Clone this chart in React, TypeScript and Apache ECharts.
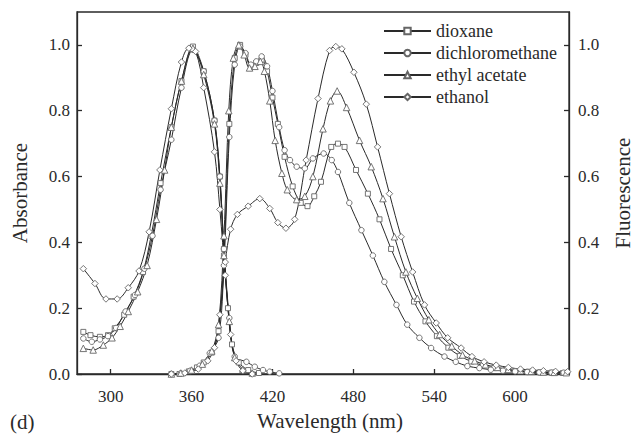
import React, { useEffect, useRef } from 'react';
import * as echarts from 'echarts';

const SOLVENTS = ['dioxane', 'dichloromethane', 'ethyl acetate', 'ethanol'];
const SYMBOLS = ['rect', 'circle', 'triangle', 'diamond'];
const X_TICKS = [300, 360, 420, 480, 540, 600];
const Y_TICKS = [0, 0.2, 0.4, 0.6, 0.8, 1.0];

// Absorption spectra [wavelength nm, absorbance]
const absDioxane = [[279.7,0.128],[285,0.118],[292,0.113],[298,0.118],[303,0.139],[310,0.18],[317,0.235],[324,0.31],[330,0.42],[337,0.58],[345,0.75],[352.5,0.89],[361,0.995],[369,0.92],[377,0.77],[381,0.6],[384,0.38],[387,0.2],[390,0.09],[395,0.035],[402,0.012],[410,0.003]];
const absDichloromethane = [[279.7,0.108],[286,0.098],[292,0.105],[298,0.115],[304,0.14],[311,0.19],[318,0.24],[325,0.32],[331,0.42],[337,0.56],[345,0.712],[352.5,0.87],[361,0.985],[369,0.92],[377,0.77],[381,0.6],[384,0.38],[388,0.17],[392,0.053],[400.7,0.037],[406.9,0.022],[413,0.012],[418,0.007],[425,0.002]];
const absEthylAcetate = [[279.7,0.078],[287,0.073],[294.5,0.088],[301,0.11],[307,0.145],[313,0.19],[320,0.25],[327,0.33],[334,0.47],[340,0.62],[345,0.75],[352.5,0.89],[361,0.99],[369,0.91],[377,0.76],[381,0.58],[384,0.36],[388,0.16],[392,0.05],[398,0.015],[405,0.003]];
const absEthanol = [[279.7,0.32],[288.3,0.275],[296.5,0.228],[304.8,0.228],[313,0.262],[321,0.313],[328.5,0.432],[336.5,0.62],[345,0.806],[352.5,0.948],[358,0.99],[363,0.98],[369,0.87],[377,0.675],[381,0.5],[385,0.3],[389,0.12],[393,0.04],[398,0.01],[405,0.0]];

// Fluorescence spectra [wavelength nm, normalized fluorescence]
const flDioxane = [[345,0.0],[351,0.0],[358,0.008],[364,0.02],[369,0.035],[375,0.065],[380,0.13],[384,0.36],[388,0.76],[392,0.96],[396,1.0],[400,0.97],[404,0.935],[408,0.945],[412,0.955],[416,0.92],[420,0.84],[424,0.76],[429,0.66],[435,0.57],[441,0.52],[446,0.51],[451,0.54],[456,0.584],[463.6,0.69],[468.6,0.70],[473.5,0.69],[482,0.62],[490.8,0.548],[499.4,0.47],[508,0.38],[516.7,0.30],[525,0.22],[533.5,0.16],[542,0.115],[550.5,0.08],[559,0.055],[567.5,0.038],[576,0.026],[584.5,0.018],[593,0.012],[601.5,0.009],[610,0.007],[618.5,0.005],[627,0.004],[635.5,0.003]];
const flDichloromethane = [[345,0.0],[352,0.002],[359,0.01],[366,0.025],[373.5,0.063],[380,0.11],[384,0.33],[388,0.72],[392,0.94],[396,0.995],[400,0.975],[404,0.94],[408,0.95],[412,0.965],[416,0.935],[420,0.86],[425,0.75],[429,0.68],[433,0.65],[438,0.63],[444,0.625],[450,0.655],[458,0.67],[464,0.65],[468.6,0.614],[477,0.52],[486,0.437],[494.5,0.36],[503,0.28],[512,0.21],[520,0.15],[529,0.11],[537.7,0.079],[547.6,0.053],[556,0.037],[564.6,0.024],[573.5,0.018],[582,0.013],[591,0.01],[600,0.008],[609,0.006],[618,0.005],[627,0.004],[636,0.004]];
const flEthylAcetate = [[345,0.0],[352,0.003],[360,0.012],[368,0.03],[375,0.07],[380,0.15],[384,0.42],[387.6,0.8],[391,0.96],[395,1.0],[399,0.97],[403,0.93],[407,0.935],[411,0.95],[414,0.92],[418,0.83],[422,0.71],[427,0.61],[431,0.56],[438,0.53],[444,0.54],[450,0.6],[457.5,0.745],[463,0.83],[468,0.86],[475,0.81],[484.6,0.71],[493.3,0.63],[502,0.533],[510.5,0.417],[519,0.31],[527.5,0.23],[536,0.165],[544,0.12],[553,0.085],[561,0.058],[570,0.04],[578,0.028],[587,0.02],[595,0.014],[604,0.01],[612,0.008],[621,0.006],[629,0.005],[638,0.004]];
const flEthanol = [[345,0.0],[355,0.003],[365,0.015],[372,0.04],[377,0.08],[381,0.18],[385,0.34],[389,0.44],[394,0.485],[402,0.51],[410.6,0.533],[418,0.503],[424,0.46],[430,0.443],[436.5,0.47],[445,0.65],[453.8,0.837],[462.4,0.983],[467,0.995],[471.5,0.988],[480.4,0.917],[489.6,0.82],[498,0.69],[506.8,0.548],[515.5,0.417],[524,0.31],[532.8,0.21],[541.5,0.155],[550,0.11],[560,0.079],[568,0.053],[577,0.037],[586,0.027],[595,0.02],[604,0.015],[613,0.012],[621,0.01],[630,0.008],[639,0.007]];

const ABS = [absDioxane, absDichloromethane, absEthylAcetate, absEthanol];
const FL = [flDioxane, flDichloromethane, flEthylAcetate, flEthanol];

const FONT = 'Liberation Serif';
const INK = '#2a2a2a';

function makeYAxis(name: string, position: 'left' | 'right') {
  return {
    type: 'value',
    position,
    min: 0,
    max: 1.1,
    name,
    nameLocation: 'middle',
    nameRotate: 90,
    nameGap: position === 'left' ? 47 : 43,
    nameTextStyle: { fontFamily: FONT, fontSize: 21, color: INK },
    axisLine: { show: true, lineStyle: { color: INK, width: 1.3 } },
    axisTick: { show: true, inside: true, length: 5, customValues: Y_TICKS, lineStyle: { color: INK, width: 1.3 } },
    axisLabel: {
      customValues: Y_TICKS,
      formatter: (v: number) => v.toFixed(1),
      margin: position === 'left' ? 7 : 9,
      fontFamily: FONT,
      fontSize: 17,
      color: INK,
    },
    splitLine: { show: false },
  };
}

export default function App() {
  const ref = useRef<HTMLDivElement>(null);
  useEffect(() => {
    document.body.style.margin = '0';
    if (!ref.current) return;
    const chart = echarts.init(ref.current, null, { renderer: 'svg' });
    const series: any[] = [];
    SOLVENTS.forEach((name, i) => {
      const common = {
        type: 'line',
        name,
        smooth: 0.35,
        symbol: SYMBOLS[i],
        symbolSize: SYMBOLS[i] === 'rect' ? 5 : SYMBOLS[i] === 'circle' ? 5.5 : 6.5,
        showAllSymbol: true,
        lineStyle: { color: INK, width: 1 },
        itemStyle: { color: '#fff', borderColor: '#666', borderWidth: 0.9 },
        emphasis: { disabled: true },
      };
      series.push({ ...common, yAxisIndex: 0, data: ABS[i] });
      series.push({ ...common, yAxisIndex: 1, data: FL[i] });
    });
    chart.setOption({
      animation: false,
      backgroundColor: '#fff',
      textStyle: { fontFamily: FONT },
      grid: {
        left: 77, right: 63, top: 12, bottom: 63,
        containLabel: false,
        outerBoundsMode: 'none',
        show: true, borderColor: INK, borderWidth: 1.3, backgroundColor: 'transparent',
      },
      legend: {
        data: SOLVENTS,
        orient: 'vertical',
        left: 383,
        top: 22,
        padding: 0,
        itemWidth: 47,
        itemHeight: 8,
        itemGap: 4,
        textStyle: { fontFamily: FONT, fontSize: 18, color: INK, lineHeight: 18 },
      },
      xAxis: {
        type: 'value',
        min: 275,
        max: 640,
        name: 'Wavelength (nm)',
        nameLocation: 'middle',
        nameGap: 36,
        nameTextStyle: { fontFamily: FONT, fontSize: 21, color: INK, padding: [0, 0, 0, 14] },
        axisLine: { show: true, lineStyle: { color: INK, width: 1.3 } },
        axisTick: { show: true, inside: true, length: 5, customValues: X_TICKS, lineStyle: { color: INK, width: 1.3 } },
        axisLabel: { customValues: X_TICKS, margin: 14, fontFamily: FONT, fontSize: 17, color: INK },
        splitLine: { show: false },
      },
      yAxis: [makeYAxis('Absorbance', 'left'), makeYAxis('Fluorescence', 'right')],
      graphic: [
        { type: 'text', left: 10, top: 411, style: { text: '(d)', fontFamily: FONT, fontSize: 21, fill: INK } },
      ],
      series,
    });
    return () => chart.dispose();
  }, []);
  return <div ref={ref} style={{ width: 632, height: 437 }} />;
}
